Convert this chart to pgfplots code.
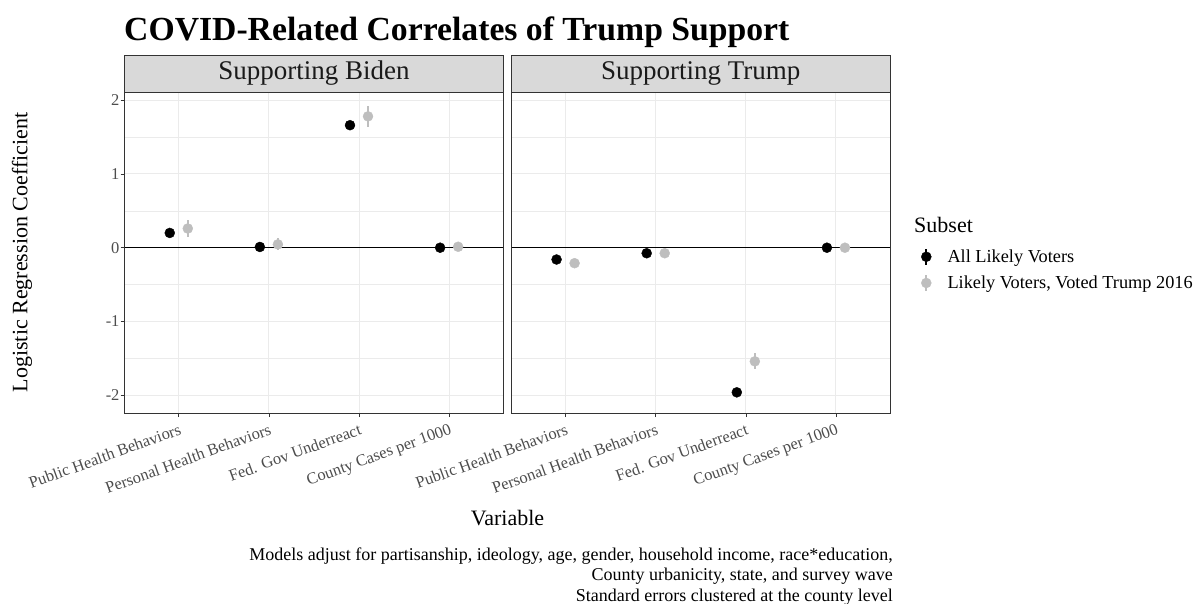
\documentclass[border=0pt]{standalone}
\usepackage{fontspec}
\setmainfont{Liberation Serif}
\usepackage{pgfplots}
\usepackage{pgfplotstable}
\pgfplotsset{compat=1.18}
\definecolor{gray92}{HTML}{EBEBEB}
\definecolor{gray85}{HTML}{D9D9D9}
\definecolor{gray20}{HTML}{333333}
\definecolor{gray30}{HTML}{4D4D4D}
\definecolor{gray10}{HTML}{1A1A1A}
\definecolor{ptgray}{HTML}{BEBEBE}

\pgfplotstableread{
x y e
0.9 0.20 0.03
1.9 0.01 0.02
2.9 1.66 0.04
3.9 0.00 0.01
}\bidenAll
\pgfplotstableread{
x y e
1.1 0.26 0.12
2.1 0.045 0.08
3.1 1.78 0.14
4.1 0.013 0.015
}\bidenT
\pgfplotstableread{
x y e
0.9 -0.16 0.03
1.9 -0.075 0.03
2.9 -1.96 0.05
3.9 0.00 0.01
}\trumpAll
\pgfplotstableread{
x y e
1.1 -0.21 0.04
2.1 -0.075 0.04
3.1 -1.54 0.11
4.1 0.00 0.015
}\trumpT

\pgfplotsset{
  panel/.style={
    scale only axis, width=378.5pt, height=321pt,
    anchor=south west,
    xmin=0.4, xmax=4.6, ymin=-2.24, ymax=2.11,
    xtick={1,2,3,4},
    xticklabels={Public Health Behaviors,Personal Health Behaviors,Fed. Gov Underreact,County Cases per 1000},
    ytick={-2,-1,0,1,2},
    minor ytick={-1.5,-0.5,0.5,1.5},
    xmajorgrids, ymajorgrids, yminorgrids,
    major grid style={color=gray92, line width=1pt},
    minor grid style={color=gray92, line width=0.5pt},
    axis line style={gray20, line width=0.6pt},
    tick align=outside, major tick length=4pt, minor tick length=0pt,
    xtick pos=bottom, ytick pos=left,
    tick style={gray20, line width=0.6pt},
    xticklabel style={rotate=20, anchor=north east, font=\fontsize{16.4}{18}\selectfont, text=gray30, inner sep=2.5pt, yshift=-3pt},
    yticklabel style={font=\fontsize{16.5}{18}\selectfont, text=gray30, inner sep=1pt},
    every axis plot/.append style={forget plot},
  },
  allpts/.style={only marks, mark=*, mark size=5pt, black, mark options={draw=black, fill=black},
    error bars/.cd, y dir=both, y explicit, error mark=none, error bar style={line width=2pt, black}},
  tpts/.style={only marks, mark=*, mark size=5pt, ptgray, mark options={draw=ptgray, fill=ptgray},
    error bars/.cd, y dir=both, y explicit, error mark=none, error bar style={line width=2pt, ptgray}},
}

\begin{document}
\begin{tikzpicture}[x=1pt,y=1pt]
\useasboundingbox (0,0) rectangle (1201,603);

% title
\node[anchor=base west, inner sep=0pt, font=\fontsize{33.7}{36}\selectfont\bfseries] at (124,562) {COVID-Related Correlates of Trump Support};

% panel 1
\begin{axis}[panel, at={(124.7pt,190pt)}, yticklabels={-2,-1,0,1,2}]
\addplot[black, line width=1.2pt] coordinates {(0.4,0) (4.6,0)};
\addplot[allpts] table[x=x, y=y, y error=e] {\bidenAll};
\addplot[tpts] table[x=x, y=y, y error=e] {\bidenT};
\end{axis}

% panel 2
\begin{axis}[panel, at={(511.5pt,190pt)}, yticklabels={}, ytick style={draw=none},
  legend style={at={(axis description cs:1.0737,0.525)}, anchor=north west, draw=none, fill=none,
    font=\fontsize{18.3}{20}\selectfont, row sep=6pt, column sep=13pt, nodes={inner sep=3pt}},
  legend cell align=left]
\addplot[black, line width=1.2pt] coordinates {(0.4,0) (4.6,0)};
\addplot[allpts] table[x=x, y=y, y error=e] {\trumpAll};
\addplot[tpts] table[x=x, y=y, y error=e] {\trumpT};
\addlegendimage{black, legend image code/.code={\draw[line width=2pt] (5pt,-8pt)--(5pt,8pt); \fill (5pt,0pt) circle (5pt);}}
\addlegendentry{All Likely Voters}
\addlegendimage{ptgray, legend image code/.code={\draw[line width=2pt] (5pt,-8pt)--(5pt,8pt); \fill (5pt,0pt) circle (5pt);}}
\addlegendentry{Likely Voters, Voted Trump 2016}
\end{axis}

% strips
\draw[fill=gray85, draw=gray20, line width=0.6pt] (124.7,511) rectangle (503.2,548);
\node[font=\fontsize{27}{30}\selectfont, text=gray10] at (313.95,529.5) {Supporting Biden};
\draw[fill=gray85, draw=gray20, line width=0.6pt] (511.5,511) rectangle (890,548);
\node[font=\fontsize{27}{30}\selectfont, text=gray10] at (700.75,529.5) {Supporting Trump};

% axis titles
\node[rotate=90, font=\fontsize{22}{24}\selectfont] at (22,350.5) {Logistic Regression Coefficient};
\node[anchor=base, font=\fontsize{22}{24}\selectfont] at (507.5,78) {Variable};

% legend title
\node[anchor=base west, inner sep=0pt, font=\fontsize{22}{24}\selectfont] at (914,370) {Subset};

% caption
\node[anchor=base east, inner sep=0pt, font=\fontsize{18}{20}\selectfont] at (893,43) {Models adjust for partisanship, ideology, age, gender, household income, race*education,};
\node[anchor=base east, inner sep=0pt, font=\fontsize{18}{20}\selectfont] at (893,22.5) {County urbanicity, state, and survey wave};
\node[anchor=base east, inner sep=0pt, font=\fontsize{18}{20}\selectfont] at (893,2) {Standard errors clustered at the county level};
\end{tikzpicture}
\end{document}
